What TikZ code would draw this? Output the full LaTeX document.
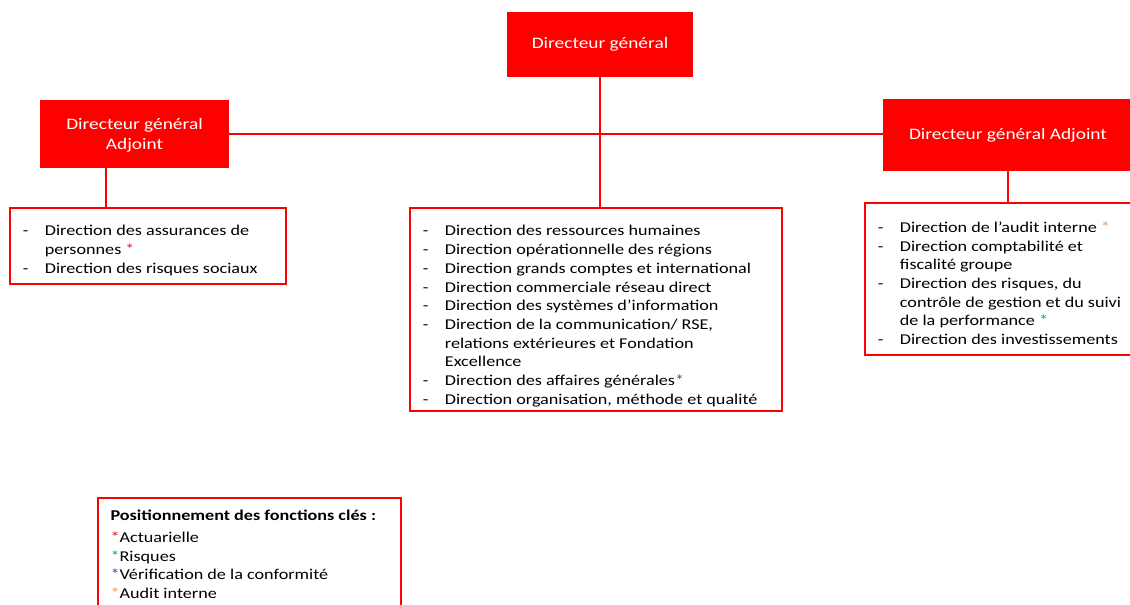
\documentclass[tikz,border=0pt]{standalone}
\usepackage{fontspec}
\setmainfont{Carlito}[FakeStretch=1.21]
\usetikzlibrary{positioning}
\definecolor{rouge}{RGB}{255,0,0}
\definecolor{actu}{RGB}{235,20,30}
\definecolor{risq}{RGB}{0,176,80}
\definecolor{conf}{RGB}{112,48,160}
\definecolor{audit}{RGB}{247,150,70}
\newcommand{\etoile}[1]{\textcolor{#1}{*}}
\newcommand{\liste}[1]{\begin{tabular}{@{}p{22pt}@{}l@{}}#1\end{tabular}}

\begin{document}
\begin{tikzpicture}[x=1pt,y=-1pt,
        dg/.style={fill=rouge,text=white,align=center,inner sep=0pt,font=\fontsize{16}{20}\selectfont},
        cadre/.style={draw=rouge,line width=2.6pt,inner sep=0pt},
        texte/.style={anchor=north west,inner sep=0pt,font=\fontsize{15}{18.7}\selectfont},
        lien/.style={draw=rouge,line width=2pt}]
    \clip (0,0) rectangle (1130,605);
    \fill[white] (0,0) rectangle (1130,605);
    % directeurs
    \node[dg,minimum width=186pt,minimum height=65pt] (dg) at (600,44.5) {\strut Directeur général};
    \node[dg,minimum width=189pt,minimum height=68pt] (gauche) at (134.5,134) {\strut Directeur général\\Adjoint};
    \node[dg,minimum width=250pt,minimum height=72pt] (droite) at (1008,135) {\strut Directeur général Adjoint};
    % cadres des directions
    \node[cadre,minimum width=276pt,minimum height=76pt] (listeG) at (148,246) {};
    \node[cadre,minimum width=372pt,minimum height=203pt] (centre) at (596,309.5) {};
    \node[cadre,minimum width=275pt,minimum height=152pt] (listeD) at (1002.5,279) {};
    \node[draw=rouge,line width=1.3pt,minimum width=303pt,minimum height=120pt,inner sep=0pt] (legende) at (249.5,558) {};
    \node[texte,below right=16pt and 14pt of listeG.north west] (txtG) {\liste{
        - & Direction des assurances de\\
          & personnes \etoile{actu}\\
        - & Direction des risques sociaux}};
    \node[texte,below right=16pt and 14pt of centre.north west] (txtC) {\liste{
        - & Direction des ressources humaines\\
        - & Direction opérationnelle des régions\\
        - & Direction grands comptes et international\\
        - & Direction commerciale réseau direct\\
        - & Direction des systèmes d’information\\
        - & Direction de la communication/ RSE,\\
          & relations extérieures et Fondation\\
          & Excellence\\
        - & Direction des affaires générales\etoile{conf}\\
        - & Direction organisation, méthode et qualité}};
    \node[texte,below right=17.5pt and 14pt of listeD.north west] (txtD) {\liste{
        - & Direction de l’audit interne \etoile{audit}\\
        - & Direction comptabilité et\\
          & fiscalité groupe\\
        - & Direction des risques, du\\
          & contrôle de gestion et du suivi\\
          & de la performance \etoile{risq}\\
        - & Direction des investissements}};
    \node[texte,align=left,below right=12.5pt and 13pt of legende.north west] (txtL) {%
        \textbf{Positionnement des fonctions clés :}\\[3pt]
        \etoile{actu}Actuarielle\\
        \etoile{risq}Risques\\
        \etoile{conf}Vérification de la conformité\\
        \etoile{audit}Audit interne};
    % liens
    \draw[lien] (gauche.east) -- (gauche.east -| droite.west);
    \foreach \haut/\bas in {dg/centre,droite/listeD}
        \draw[lien] (\haut.south) -- (\haut.south |- \bas.north);
    \coordinate (pied) at ([xshift=-28.5pt]gauche.south);
    \draw[lien] (pied) -- (pied |- listeG.north);
\end{tikzpicture}
\end{document}
